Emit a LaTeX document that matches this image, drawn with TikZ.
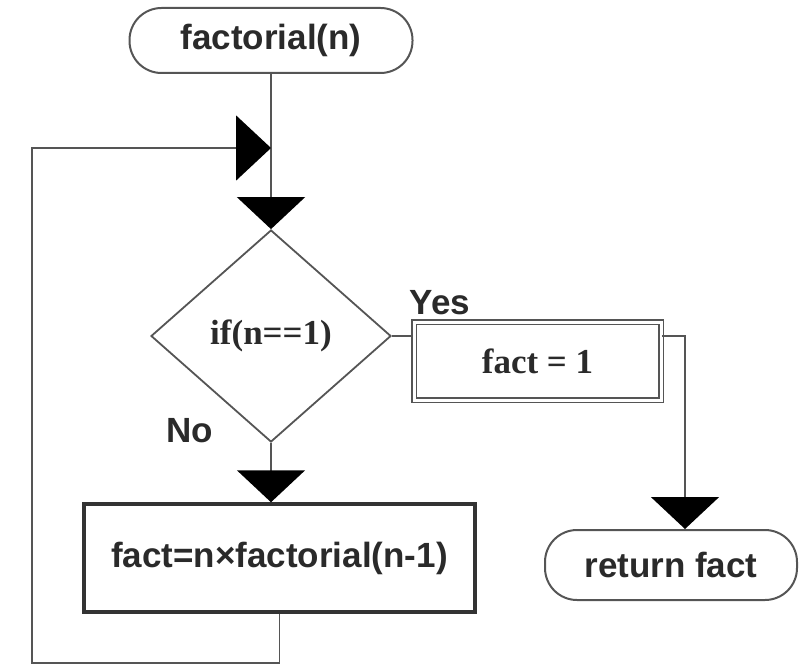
\documentclass[tikz,border=0pt]{standalone}
\usepackage{fontspec}
\setmainfont{Liberation Sans}
\newfontfamily\serifface{Liberation Serif}
\usetikzlibrary{shapes.geometric,arrows.meta,calc}
\definecolor{linegray}{HTML}{555555}
\definecolor{textgray}{HTML}{2A2A2A}
\begin{document}
\begin{tikzpicture}[x=1pt,y=-1pt,
  line/.style={draw=linegray, line width=1.8pt},
  tipdown/.style={-{Triangle[width=68pt,length=32pt,color=black]}},
  tipright/.style={-{Triangle[width=65pt,length=35pt,color=black]}},
  sansbig/.style={font=\fontsize{35}{38}\selectfont\bfseries, text=textgray},
  serifbig/.style={font=\serifface\fontsize{35}{38}\selectfont\bfseries, text=textgray},
  term/.style={sansbig, draw=linegray, line width=2pt, rounded corners=32pt, inner sep=0pt},
  decision/.style={serifbig, diamond, draw=linegray, line width=1.8pt, inner sep=0pt, minimum width=240pt, minimum height=212pt},
  procbox/.style={sansbig, draw=black!80, line width=3.5pt, inner sep=0pt, minimum width=391pt, minimum height=108pt},
  assign/.style={serifbig, draw=linegray, line width=1.6pt, double=white, double distance=3pt, inner sep=0pt, minimum width=247pt, minimum height=78pt},
  lab/.style={sansbig, inner sep=0pt}
]
\useasboundingbox (0,0) rectangle (808,666);

\node[term, minimum width=283pt, minimum height=65pt] (start) at (271,40.5) {factorial(n)};
\node[decision] (dec) at (271,336) {\raisebox{8pt}{if(n==1)}};
\node[assign] (one) at (537.5,361) {fact = 1};
\node[procbox] (proc) at (279.5,558) {fact=n×factorial(n-1)};
\node[term, minimum width=252pt, minimum height=70pt] (ret) at (671,565) {return fact};

\node[lab] (yes) at (440,303) {Yes};
\node[lab] (no) at (190,431) {No};

\coordinate (join) at (271,148);
\coordinate (lb) at (32,663);
\coordinate (retin) at ($(ret.north)+(14,0)$);

\draw[line] (start.south) -- (join);
\draw[line, tipdown] (join) -- (dec.north);
\draw[line, tipdown] (dec.south) -- (dec.south |- proc.north);
\draw[line] (dec.east) -- (dec.east -| one.west);
\draw[line, tipdown] (dec.east -| one.east) -| (retin);
\draw[line, tipright] (proc.south) |- (lb) |- (join);
\end{tikzpicture}
\end{document}
